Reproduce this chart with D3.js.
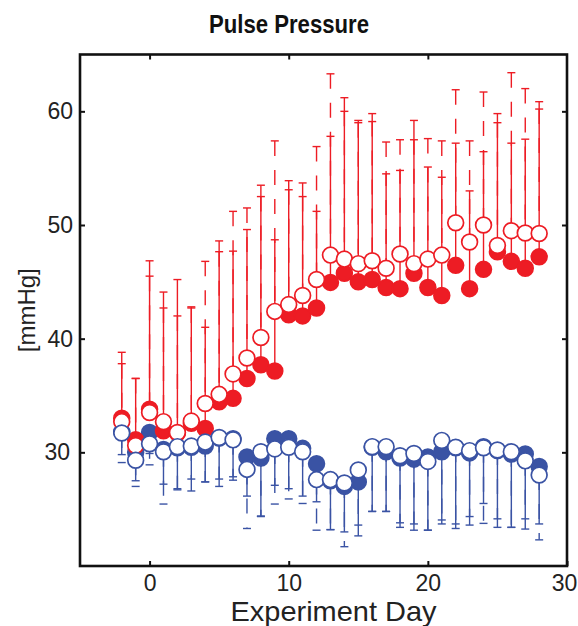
<!DOCTYPE html>
<html>
<head>
<meta charset="utf-8">
<script src="https://cdn.jsdelivr.net/npm/d3@7"></script>
<style>
  body { margin: 0; background: #fff; }
  text { font-family: "Liberation Sans", Arial, Helvetica, sans-serif; }
</style>
</head>
<body>
<div id="chart"></div>
<script>
// Values, one entry per experiment day
const days = [-2, -1, 0, 1, 2, 3, 4, 5, 6, 7, 8, 9, 10, 11, 12, 13, 14, 15, 16, 17, 18, 19, 20, 21, 22, 23, 24, 25, 26, 27, 28];

// red group: filled markers (solid bars) and open markers (dashed bars), upper error only
const redFilled    = [33.0, 31.1, 33.8, 31.9, 31.7, 32.55, 32.1, 34.45, 34.75, 36.5, 37.7, 37.15, 42.1, 42.0, 42.7, 44.95, 45.75, 45.0, 45.2, 44.5, 44.4, 45.75, 44.5, 43.8, 46.45, 44.4, 46.1, 47.65, 46.8, 46.2, 47.2];
const redFilledTop = [38.8, 36.5, 46.85, 44.1, 45.2, 42.8, 41.0, 48.6, 47.7, 49.6, 53.5, 48.7, 53.9, 53.7, 51.2, 57.8, 61.2, 59.2, 59.8, 54.5, 54.8, 59.2, 55.1, 54.2, 57.2, 53.0, 56.45, 59.8, 57.2, 57.55, 60.85];
const redOpen      = [32.7, 30.6, 33.5, 32.7, 31.75, 32.75, 34.3, 35.1, 36.9, 38.3, 40.1, 42.4, 43.0, 43.8, 45.2, 47.35, 47.0, 46.6, 46.85, 46.2, 47.45, 46.6, 47.0, 47.35, 50.2, 48.5, 50.0, 48.2, 49.5, 49.3, 49.25];
const redOpenTop   = [37.8, 36.5, 45.5, 42.7, 42.0, 42.7, 46.8, 47.65, 51.2, 51.5, 52.5, 57.4, 53.1, 52.5, 56.9, 63.3, 60.0, 59.0, 59.1, 57.3, 57.5, 57.5, 57.6, 57.4, 61.9, 57.4, 61.7, 59.0, 63.4, 62.0, 60.2];

// blue group: filled markers (solid bars) and open markers (dashed bars), lower error only
const blueFilled    = [31.8, 30.0, 31.75, 30.25, 30.4, 30.45, 30.55, 31.25, 31.2, 29.6, 29.5, 31.2, 31.2, 30.35, 29.0, 27.5, 27.0, 27.4, 30.45, 30.05, 29.5, 29.4, 29.6, 30.05, 30.4, 29.95, 30.5, 30.15, 29.85, 29.85, 28.75];
const blueFilledBot = [29.8, 27.5, 29.9, 27.2, 26.8, 26.6, 27.4, 27.0, 27.55, 26.15, 24.4, 27.1, 26.8, 26.15, 25.65, 23.2, 23.0, 22.65, 24.8, 24.8, 23.4, 23.15, 23.15, 23.7, 23.3, 23.6, 25.5, 23.4, 23.4, 24.15, 23.7];
const blueOpen      = [31.7, 29.3, 30.75, 30.05, 30.5, 30.55, 30.9, 31.3, 31.1, 28.5, 30.05, 30.3, 30.45, 30.05, 27.6, 27.6, 27.3, 28.45, 30.5, 30.5, 29.7, 29.9, 29.2, 31.05, 30.45, 30.15, 30.4, 30.2, 30.05, 29.25, 28.0];
const blueOpenBot   = [29.1, 27.0, 28.9, 25.45, 26.7, 27.65, 27.4, 27.65, 27.85, 23.3, 24.35, 25.45, 25.9, 25.5, 23.15, 23.2, 21.7, 23.6, 24.8, 24.8, 23.8, 23.7, 23.15, 24.05, 23.7, 24.35, 23.75, 24.15, 23.4, 23.25, 22.3];

const xTicks = [0, 10, 20, 30];
const yTicks = [30, 40, 50, 60];

const width = 578, height = 626;
const margin = { top: 54.5, right: 11, bottom: 60, left: 80 };
const red = "#ed1c24", blue = "#3a53a4";
const r = 7.9, capHalf = 4;

const svg = d3.select("#chart")
    .append("svg")
    .attr("width", width)
    .attr("height", height);

const x = d3.scaleLinear()
    .domain([-5, 30])
    .range([margin.left, width - margin.right]);

const y = d3.scaleLinear()
    .domain([20, 65])
    .range([height - margin.bottom, margin.top]);

// Axes, ticks point inward like the MATLAB box
svg.append("g")
    .attr("transform", `translate(0,${y(20)})`)
    .call(d3.axisBottom(x).tickValues(xTicks).tickSize(-5).tickPadding(9));
svg.append("g")
    .attr("transform", `translate(0,${y(65)})`)
    .call(d3.axisTop(x).tickValues(xTicks.slice(0, 3)).tickSize(-5).tickFormat(""));
svg.append("g")
    .attr("transform", `translate(${x(-5)},0)`)
    .call(d3.axisLeft(y).tickValues(yTicks).tickSize(-5).tickPadding(7));
svg.append("g")
    .attr("transform", `translate(${x(30)},0)`)
    .call(d3.axisRight(y).tickValues(yTicks).tickSize(-5).tickFormat(""));

svg.selectAll(".domain").remove();
svg.selectAll(".tick line").attr("stroke", "#111").attr("stroke-width", 2);
svg.selectAll(".tick text").attr("fill", "#222").style("font-size", "23px");
// last x label sits against the page edge
svg.selectAll(".tick text").filter(d => d === 30).attr("dx", -3);

// Box
svg.append("rect")
    .attr("x", x(-5))
    .attr("y", y(65))
    .attr("width", x(30) - x(-5))
    .attr("height", y(20) - y(65))
    .attr("fill", "none")
    .attr("stroke", "#111")
    .attr("stroke-width", 2.6);

// Error bars
function bars(means, ends, color, dashed, up) {
    const g = svg.append("g")
        .attr("stroke", color)
        .attr("stroke-width", 1.4)
        .attr("fill", "none");
    days.forEach((d, i) => {
        const px = x(d);
        // red dashes start at the cap, blue dashes start at the marker
        const y1 = up ? y(ends[i]) : y(means[i]);
        const y2 = up ? y(means[i]) : y(ends[i]);
        g.append("line")
            .attr("x1", px).attr("x2", px)
            .attr("y1", y1).attr("y2", y2)
            .attr("stroke-dasharray", dashed ? "15,14" : null);
        g.append("line")
            .attr("x1", px - capHalf).attr("x2", px + capHalf)
            .attr("y1", y(ends[i])).attr("y2", y(ends[i]));
    });
}

bars(redFilled, redFilledTop, red, false, true);
bars(redOpen, redOpenTop, red, true, true);
bars(blueFilled, blueFilledBot, blue, false, false);
bars(blueOpen, blueOpenBot, blue, true, false);

// Markers
function markers(values, color, open) {
    svg.append("g")
        .selectAll("circle")
        .data(days)
        .join("circle")
        .attr("cx", d => x(d))
        .attr("cy", (d, i) => y(values[i]))
        .attr("r", r)
        .attr("fill", open ? "#fff" : color)
        .attr("stroke", color)
        .attr("stroke-width", 1.7);
}

markers(blueFilled, blue, false);
markers(redFilled, red, false);
markers(redOpen, red, true);
markers(blueOpen, blue, true);

// Labels
svg.append("text")
    .attr("x", 289)
    .attr("y", 33)
    .attr("text-anchor", "middle")
    .attr("fill", "#111")
    .attr("textLength", 160)
    .attr("lengthAdjust", "spacingAndGlyphs")
    .style("font-size", "26px")
    .style("font-weight", "bold")
    .text("Pulse Pressure");

svg.append("text")
    .attr("x", (x(-5) + x(30)) / 2 + 10)
    .attr("y", 621)
    .attr("text-anchor", "middle")
    .attr("fill", "#222")
    .attr("textLength", 206)
    .attr("lengthAdjust", "spacingAndGlyphs")
    .style("font-size", "28px")
    .text("Experiment Day");

svg.append("text")
    .attr("transform", `translate(35,${(y(20) + y(65)) / 2}) rotate(-90)`)
    .attr("text-anchor", "middle")
    .attr("fill", "#222")
    .style("font-size", "24px")
    .text("[mmHg]");
</script>
</body>
</html>
